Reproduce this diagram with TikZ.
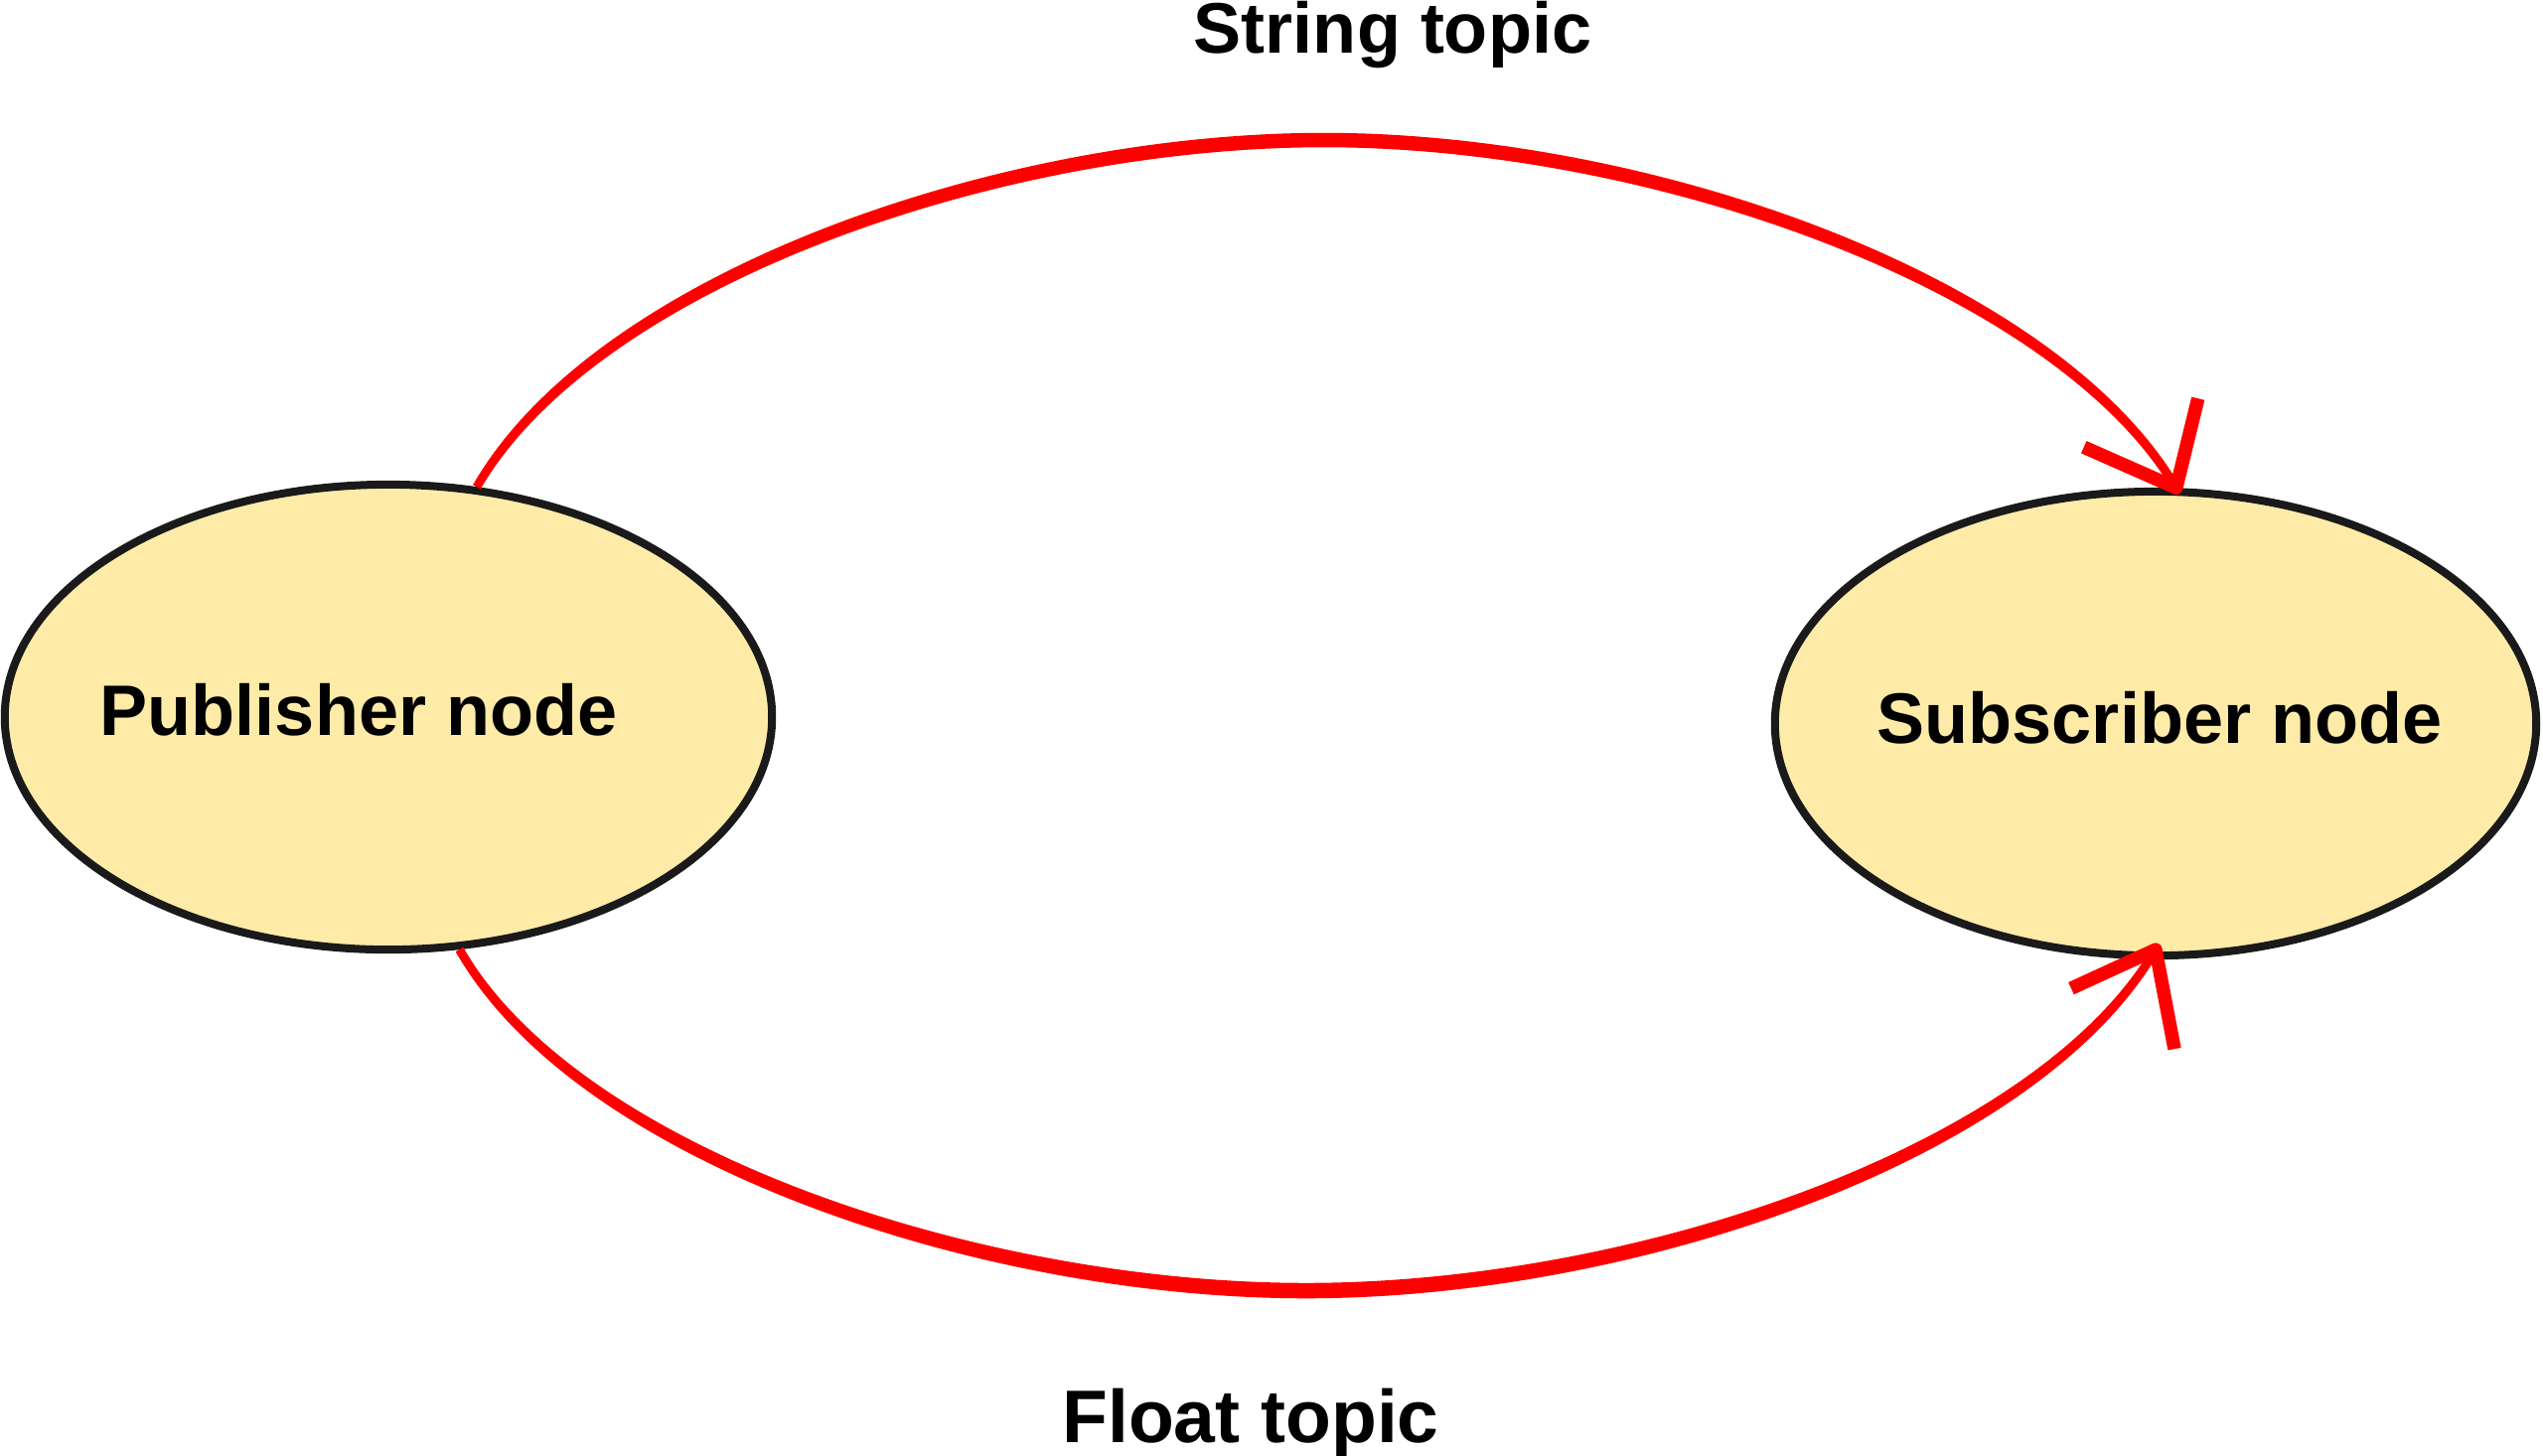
\documentclass[tikz,border=0pt]{standalone}
\usepackage{fontspec}
\setmainfont{Liberation Sans}
\usetikzlibrary{calc,shapes.geometric}
\definecolor{nodefill}{HTML}{FEEBA8}
\definecolor{nodeline}{HTML}{1A1A1A}
\definecolor{linkred}{HTML}{FF0000}
\tikzset{
  rosnode/.style={ellipse, draw=nodeline, line width=0.08cm, fill=nodefill, inner sep=0pt},
  nodetext/.style={inner sep=0pt, anchor=base, font=\fontsize{20.49pt}{24pt}\selectfont\bfseries},
  topictext/.style={inner sep=0pt, anchor=base, font=\fontsize{21.34pt}{25pt}\selectfont\bfseries},
  stringtext/.style={inner sep=0pt, anchor=base, font=\fontsize{20.49pt}{24pt}\selectfont\bfseries},
  link/.style={draw=linkred, line width=0.085cm},
  barb/.style={draw=linkred, line width=0.135cm, line join=round, line cap=butt},
}
\begin{document}
\begin{tikzpicture}[x=0.01cm,y=-0.01cm]
\useasboundingbox (0,0) rectangle (2560,1465);
% nodes
\node[rosnode, minimum width=7.72cm, minimum height=4.68cm] (pub) at (391,722) {};
\node[rosnode, minimum width=7.66cm, minimum height=4.67cm] (sub) at (2170,728.5) {};
\node[nodetext] (publbl) at (361,740) {Publisher node};
\node[nodetext] (sublbl) at (2174,748) {Subscriber node};
\node[stringtext] (strlbl) at (1402,53) {String topic};
\node[topictext] (fltlbl) at (1259,1452) {Float topic};
% helper coordinates
\coordinate (peakT) at (1333,144);
\coordinate (peakB) at (1315,1296);
\coordinate (tipT) at (sub.85.6);
\coordinate (tipB) at ($(sub.south)+(0,-10)$);
% String topic connector (tapered: two strokes)
\draw[link] (pub.69) .. controls (600,285) and (1003,144) .. (peakT)
  .. controls (1663,144) and (2068,287) .. (tipT);
\draw[link] (pub.69) .. controls (600,280) and (1003,138) .. ($(peakT)+(0,-6)$)
  .. controls (1663,138) and (2068,282) .. (tipT);
% Float topic connector
\draw[link] (pub.-73) .. controls (581,1161) and (985,1296) .. (peakB)
  .. controls (1645,1296) and (2050,1159) .. (tipB);
\draw[link] (pub.-73) .. controls (581,1166) and (985,1303) .. ($(peakB)+(0,7)$)
  .. controls (1645,1303) and (2050,1164) .. (tipB);
% arrowheads
\draw[barb] ($(tipT)+(-93,-41)$) -- (tipT) -- ($(tipT)+(22,-90)$);
\draw[barb] ($(tipB)+(-85,39)$) -- (tipB) -- ($(tipB)+(19,100)$);
\end{tikzpicture}
\end{document}
